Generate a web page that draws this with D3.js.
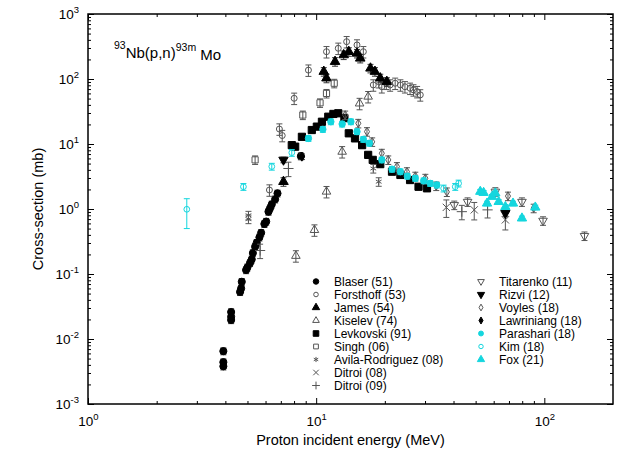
<!DOCTYPE html>
<html lang="en">
<head>
<meta charset="UTF-8">
<title>93Nb(p,n)93mMo</title>
<script src="https://cdn.jsdelivr.net/npm/d3@7"></script>
<style>
  body { margin: 0; background: #fff; }
  svg { font-family: "Liberation Sans", Arial, sans-serif; }
</style>
</head>
<body>
<script>
// [energy MeV, cross-section mb]
let blaser = [[3.92, 0.0065], [3.92, 0.0044], [3.92, 0.0038], [4.24, 0.026], [4.24, 0.022], [4.24, 0.0196],
  [4.64, 0.053], [4.69, 0.060], [4.72, 0.076], [4.93, 0.115], [5.0, 0.127], [5.13, 0.148], [5.22, 0.168],
  [5.28, 0.21], [5.40, 0.263], [5.49, 0.303], [5.64, 0.366], [5.74, 0.43], [5.93, 0.59], [6.04, 0.64],
  [6.18, 0.91], [6.28, 1.03], [6.39, 1.18], [6.61, 1.41], [6.77, 1.74], [8.57, 6.5]];
let forsthoff = [[6.24, 1.96], [6.9, 17], [7.1, 13.5], [8.01, 50.5], [9.25, 137], [11.1, 263], [12.5, 297],
  [13.6, 375], [15.1, 334], [16.1, 263], [17.8, 81], [18.8, 91], [19.4, 76], [20.3, 86], [21.1, 81],
  [22.2, 86], [23.4, 81], [24.5, 76], [25.8, 72], [26.7, 68], [27.7, 64], [28.6, 57]];
let james = [[7.19, 2.63], [10.8, 130], [11.1, 103], [12.1, 185], [13.2, 234], [13.9, 263], [15.1, 248],
  [15.6, 208], [17.3, 146], [18.1, 130], [19.1, 103], [20.4, 91]];
let kiselev = [[8.15, 0.19], [9.83, 0.475], [11.1, 1.85], [13.0, 7.6], [15.5, 42], [16.9, 53.5]];
let levkovski = [[7.82, 9.6], [8.09, 9.1], [8.66, 12.9], [9.57, 16.4], [10.07, 18.5], [10.6, 22], [11.3, 26.3],
  [11.9, 29], [12.5, 29.7], [13.3, 25], [13.9, 14.6], [14.8, 12.2], [15.9, 9.6], [16.9, 6.8], [17.7, 5.7],
  [19.1, 4.9], [21.5, 3.75], [23.4, 3.34], [25.8, 2.79], [28.1, 2.2], [30.6, 2.08]];
let singh = [[5.4, 5.7], [8.74, 27.9], [10.4, 43], [11.1, 60], [12.0, 86]];
let avila = [[5.05, 0.8], [5.05, 0.7], [17.8, 4.2], [18.8, 2.63]];
let ditroi08 = [[37.2, 1.06], [49.3, 0.97], [67.5, 0.68]];
let ditroi09 = [[5.68, 0.23], [7.56, 4.2], [43.5, 0.91], [56.4, 0.97]];
let titarenko = [[40.3, 1.15], [46.1, 1.29], [61, 1.85], [79.8, 1.29], [98.7, 0.66], [150, 0.385]];
let rizvi = [[7.19, 5.7], [67.5, 0.86]];
let voyles = [[13.4, 27.9], [15.3, 20.8], [16.7, 15.5], [17.6, 10.8], [19.4, 7.2], [20.7, 5.7], [22.6, 4.5],
  [25, 3.75], [27.2, 3.2], [30.1, 2.97], [33.6, 2.26], [37.4, 1.83], [69.3, 1.58], [89.8, 1.03]];
let lawriniang = [[8.66, 6.4]];
let parashari = [[9.25, 12.2], [10.7, 16.8], [11.6, 22], [13.0, 20.3], [14.2, 22], [15.1, 15.5], [16.1, 11.8],
  [17.1, 10.3], [19.4, 5.7], [21.5, 4.1], [23.4, 3.75], [25.1, 3.2], [27.2, 2.97], [29.6, 2.72],
  [31.6, 2.48], [33.8, 2.34]];
let kim = [[2.71, 0.99, 0.5, 1.44], [4.8, 2.2], [6.39, 4.5], [7.82, 7.35], [36.2, 2.08], [40.7, 2.2], [42.1, 2.48]];
let fox = [[52.4, 1.85], [54.2, 1.78], [56.1, 1.22], [59, 1.55], [61, 1.75], [63.1, 1.29], [67.5, 1.08],
  [72.9, 1.22], [79.8, 0.72], [91.3, 1.06]];

let xMajor = [1, 10, 100];
let yMajor = [1e-3, 1e-2, 1e-1, 1, 10, 100, 1000];

let width = 619;
let height = 452;
let mLeft = 88, mRight = 613, mTop = 14, mBottom = 404;

let black = '#000';
let gray = '#555';
let cyan = '#14d6de';

let series = [
  { name: 'Blaser (51)', data: blaser, sym: 'circle', fill: black, color: black, err: 0.12, size: 40 },
  { name: 'Forsthoff (53)', data: forsthoff, sym: 'circle', fill: 'none', color: gray, err: 0.2, size: 28 },
  { name: 'James (54)', data: james, sym: 'triangle', fill: black, color: black, err: 0.15, size: 40 },
  { name: 'Kiselev (74)', data: kiselev, sym: 'triangle', fill: 'none', color: gray, err: 0.2, size: 32 },
  { name: 'Levkovski (91)', data: levkovski, sym: 'square', fill: black, color: black, err: 0.1, size: 52 },
  { name: 'Singh (06)', data: singh, sym: 'square', fill: 'none', color: gray, err: 0.15, size: 38 },
  { name: 'Avila-Rodriguez (08)', data: avila, sym: 'asterisk', fill: 'none', color: gray, err: 0.15, size: 30 },
  { name: 'Ditroi (08)', data: ditroi08, sym: 'times', fill: 'none', color: gray, err: 0.3, size: 36 },
  { name: 'Ditroi (09)', data: ditroi09, sym: 'plus', fill: 'none', color: gray, err: 0.25, size: 36 },
  { name: 'Titarenko (11)', data: titarenko, sym: 'down', fill: 'none', color: gray, err: 0.15, size: 32 },
  { name: 'Rizvi (12)', data: rizvi, sym: 'down', fill: black, color: black, err: 0.1, size: 38 },
  { name: 'Voyles (18)', data: voyles, sym: 'diamond', fill: 'none', color: gray, err: 0.15, size: 22 },
  { name: 'Lawriniang (18)', data: lawriniang, sym: 'diamond', fill: black, color: black, err: 0.1, size: 24 },
  { name: 'Parashari (18)', data: parashari, sym: 'circle', fill: cyan, color: cyan, err: 0.1, size: 32 },
  { name: 'Kim (18)', data: kim, sym: 'circle', fill: 'none', color: cyan, err: 0.12, size: 26 },
  { name: 'Fox (21)', data: fox, sym: 'triangle', fill: cyan, color: cyan, err: 0.08, size: 38 }
];

let svg = d3.select('body')
  .append('svg')
  .attr('width', width)
  .attr('height', height);

let x = d3.scaleLog().domain([1, 200]).range([mLeft, mRight]);
let y = d3.scaleLog().domain([1e-3, 1e3]).range([mBottom, mTop]);

function minorTicks(domain) {
  let out = [];
  for (let e = Math.floor(Math.log10(domain[0])); e < Math.log10(domain[1]); e++) {
    for (let k = 2; k <= 9; k++) {
      let v = k * Math.pow(10, e);
      if (v > domain[0] && v < domain[1]) out.push(v);
    }
  }
  return out;
}

function powerLabel(sel) {
  sel.selectAll('.tick text').each(function (d) {
    let t = d3.select(this);
    t.text('10');
    t.append('tspan')
      .attr('dy', '-0.6em')
      .attr('font-size', '9.5px')
      .text(Math.round(Math.log10(d)));
  });
}

function renderXAxis() {
  let major = svg.append('g')
    .attr('class', 'x-axis')
    .attr('transform', 'translate(0,' + mBottom + ')')
    .call(d3.axisBottom(x).tickValues(xMajor).tickSize(-6).tickPadding(12));
  major.call(powerLabel);
  svg.append('g')
    .attr('transform', 'translate(0,' + mBottom + ')')
    .call(d3.axisBottom(x).tickValues(minorTicks(x.domain())).tickSize(-3).tickFormat(''));
  svg.append('g')
    .attr('transform', 'translate(0,' + mTop + ')')
    .call(d3.axisTop(x).tickValues(xMajor).tickSize(-6).tickFormat(''));
  svg.append('g')
    .attr('transform', 'translate(0,' + mTop + ')')
    .call(d3.axisTop(x).tickValues(minorTicks(x.domain())).tickSize(-3).tickFormat(''));
}

function renderYAxis() {
  let major = svg.append('g')
    .attr('class', 'y-axis')
    .attr('transform', 'translate(' + mLeft + ',0)')
    .call(d3.axisLeft(y).tickValues(yMajor).tickSize(-6).tickPadding(9));
  major.call(powerLabel);
  svg.append('g')
    .attr('transform', 'translate(' + mLeft + ',0)')
    .call(d3.axisLeft(y).tickValues(minorTicks(y.domain())).tickSize(-3).tickFormat(''));
  svg.append('g')
    .attr('transform', 'translate(' + mRight + ',0)')
    .call(d3.axisRight(y).tickValues(yMajor).tickSize(-6).tickFormat(''));
  svg.append('g')
    .attr('transform', 'translate(' + mRight + ',0)')
    .call(d3.axisRight(y).tickValues(minorTicks(y.domain())).tickSize(-3).tickFormat(''));
}

renderXAxis();
renderYAxis();

svg.selectAll('.domain').remove();
svg.selectAll('.tick line').attr('stroke', '#000').attr('stroke-width', 1);
svg.selectAll('.tick text').attr('font-size', '13.5px').attr('fill', '#000')
  .attr('font-family', '"Liberation Sans", Arial, sans-serif');

svg.append('rect')
  .attr('x', mLeft).attr('y', mTop)
  .attr('width', mRight - mLeft).attr('height', mBottom - mTop)
  .attr('fill', 'none').attr('stroke', '#000').attr('stroke-width', 1.5);

function symbolPath(sym, size) {
  let types = {
    circle: d3.symbolCircle,
    triangle: d3.symbolTriangle,
    down: d3.symbolTriangle,
    square: d3.symbolSquare,
    diamond: d3.symbolDiamond,
    plus: d3.symbolPlus || d3.symbolCross,
    times: d3.symbolTimes || d3.symbolCross,
    asterisk: d3.symbolAsterisk || d3.symbolCross
  };
  return d3.symbol().type(types[sym]).size(size)();
}

function drawMarker(g, s, px, py, size) {
  let stroked = s.sym === 'plus' || s.sym === 'times' || s.sym === 'asterisk';
  g.append('path')
    .attr('d', symbolPath(s.sym, size))
    .attr('transform', 'translate(' + px + ',' + py + ')' + (s.sym === 'down' ? ' rotate(180)' : ''))
    .attr('fill', stroked ? 'none' : s.fill)
    .attr('stroke', s.color)
    .attr('stroke-width', 1);
}

let plot = svg.append('g').attr('class', 'data');

series.forEach(function (s) {
  let g = plot.append('g');
  let barColor = s.color === black ? '#333' : s.color;
  s.data.forEach(function (d) {
    let lo = d.length > 2 ? d[2] : d[1] * (1 - s.err);
    let hi = d.length > 3 ? d[3] : d[1] * (1 + s.err);
    let px = x(d[0]);
    g.append('line')
      .attr('x1', px).attr('x2', px)
      .attr('y1', y(lo)).attr('y2', y(hi))
      .attr('stroke', barColor).attr('stroke-width', 1);
    [lo, hi].forEach(function (v) {
      g.append('line')
        .attr('x1', px - 3).attr('x2', px + 3)
        .attr('y1', y(v)).attr('y2', y(v))
        .attr('stroke', barColor).attr('stroke-width', 1);
    });
  });
  s.data.forEach(function (d) {
    drawMarker(g, s, x(d[0]), y(d[1]), s.size);
  });
});

// legend, two columns
let legend = svg.append('g').attr('class', 'legend');
series.forEach(function (s, i) {
  let col = i < 9 ? 0 : 1;
  let row = col === 0 ? i : i - 9;
  let sx = col === 0 ? 316 : 481;
  let sy = 281.5 + row * 13;
  drawMarker(legend, s, sx, sy, s.size * 0.6);
  legend.append('text')
    .attr('x', sx + 18)
    .attr('y', sy)
    .attr('dy', '0.35em')
    .attr('font-size', '12px')
    .text(s.name);
});

// reaction label
let title = svg.append('text')
  .attr('x', 114)
  .attr('y', 55)
  .attr('font-size', '15px');
title.append('tspan').attr('font-size', '10.5px').attr('dy', '-0.6em').text('93');
title.append('tspan').attr('dy', '0.6em').text('Nb(p,n)');
title.append('tspan').attr('font-size', '10.5px').attr('dy', '-0.6em').text('93m');
title.append('tspan').attr('dy', '0.6em').text(' Mo');

svg.append('text')
  .attr('x', (mLeft + mRight) / 2)
  .attr('y', 445)
  .attr('text-anchor', 'middle')
  .attr('font-size', '14.5px')
  .text('Proton incident energy (MeV)');

svg.append('text')
  .attr('transform', 'translate(43,' + (mTop + mBottom) / 2 + ') rotate(-90)')
  .attr('text-anchor', 'middle')
  .attr('font-size', '14.5px')
  .text('Cross-section (mb)');
</script>
</body>
</html>
